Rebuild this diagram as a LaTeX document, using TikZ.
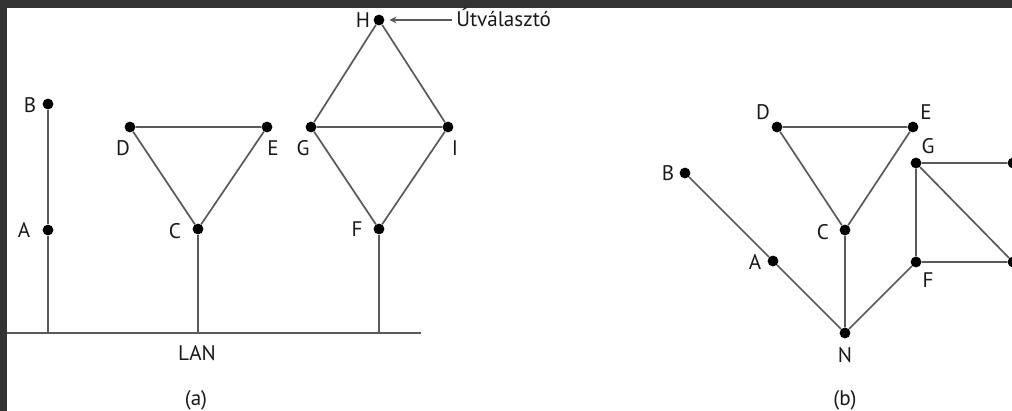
\documentclass[tikz,border=0pt]{standalone}
\usepackage{fontspec}
\setmainfont{PT Sans}
\usetikzlibrary{arrows, positioning}
\tikzstyle{host}  = [circle, fill=black, inner sep=0pt, minimum size=2.7mm]
\tikzstyle{lbl}   = [inner sep=0pt, text=black!90, font=\fontsize{15}{17}\selectfont]
\tikzstyle{link}  = [line width=1.2pt, draw=black!65]
\tikzstyle{arrow} = [line width=1.2pt, draw=black!65, ->, >=stealth, shorten >=1.2mm]

\begin{document}
\begin{tikzpicture}[x=0.025cm, y=-0.025cm]

        \useasboundingbox (0,0) rectangle (1012,411);
        \fill[black!80] (0,0) rectangle (1012,411);
        \fill[white] (7,8) rectangle (1012,411);
        \clip (7,8) rectangle (1012,411);

        % (a) LAN
        \coordinate (lanW) at (7,333);
        \coordinate (lanE) at (421,333);

        \node[host] (aB) at (48,104) {};
        \node[host] (aA) at (48,230) {};
        \node[host] (aD) at (130,127) {};
        \node[host] (aE) at (267,127) {};
        \node[host] (aC) at (198,229) {};
        \node[host] (aH) at (379,20) {};
        \node[host] (aG) at (311,127) {};
        \node[host] (aI) at (448,127) {};
        \node[host] (aF) at (379,229) {};

        \draw[link] (lanW) -- (lanE);
        \draw[link] (aB) -- (aA) (aA) -- (aA |- lanW);
        \draw[link] (aD) -- (aE) (aD) -- (aC) (aE) -- (aC);
        \draw[link] (aC) -- (aC |- lanW);
        \draw[link] (aH) -- (aG) (aH) -- (aI) (aG) -- (aI);
        \draw[link] (aG) -- (aF) (aI) -- (aF);
        \draw[link] (aF) -- (aF |- lanW);

        % Popisky (a)
        \node[lbl] (laB) at (30,105) {B};
        \node[lbl] (laA) at (24,230) {A};
        \node[lbl] (laD) at (123,148) {D};
        \node[lbl] (laE) at (273,148) {E};
        \node[lbl] (laC) at (175,231) {C};
        \node[lbl] (laG) at (303,148) {G};
        \node[lbl] (laI) at (455,148) {I};
        \node[lbl] (laF) at (357,229) {F};
        \node[lbl] (laH) at (363,20) {H};
        \node[lbl] (lan) at (197,353) {LAN};
        \node[lbl] (capa) at (196,400) {(a)};

        \node[lbl, anchor=base west] (ut) at (456,27) {Útválasztó};
        \draw[arrow] ([xshift=-1mm]ut.west |- aH) -- (aH);

        % (b) graf
        \node[host] (bD) at (777,127) {};
        \node[host] (bE) at (913,127) {};
        \node[host] (bG) at (916,163) {};
        \node[host] (bB) at (685,173) {};
        \node[host] (bC) at (845,230) {};
        \node[host] (bA) at (773,261) {};
        \node[host] (bF) at (916,262) {};
        \node[host] (bN) at (845,333) {};
        \node[host] (bH) at (1013,163) {};
        \node[host] (bI) at (1013,262) {};

        \draw[link] (bB) -- (bA) (bA) -- (bN) (bC) -- (bN) (bN) -- (bF);
        \draw[link] (bD) -- (bE) (bD) -- (bC) (bE) -- (bC);
        \draw[link] (bG) -- (bF) (bG) -- (bH) (bG) -- (bI) (bF) -- (bI) (bH) -- (bI);

        % Popisky (b)
        \node[lbl] (lbD) at (763,112) {D};
        \node[lbl] (lbE) at (926,112) {E};
        \node[lbl] (lbG) at (928,146) {G};
        \node[lbl] (lbB) at (668,173) {B};
        \node[lbl] (lbC) at (823,232) {C};
        \node[lbl] (lbA) at (755,262) {A};
        \node[lbl] (lbF) at (928,280) {F};
        \node[lbl] (lbN) at (845,355) {N};
        \node[lbl] (capb) at (845,400) {(b)};

\end{tikzpicture}
\end{document}
